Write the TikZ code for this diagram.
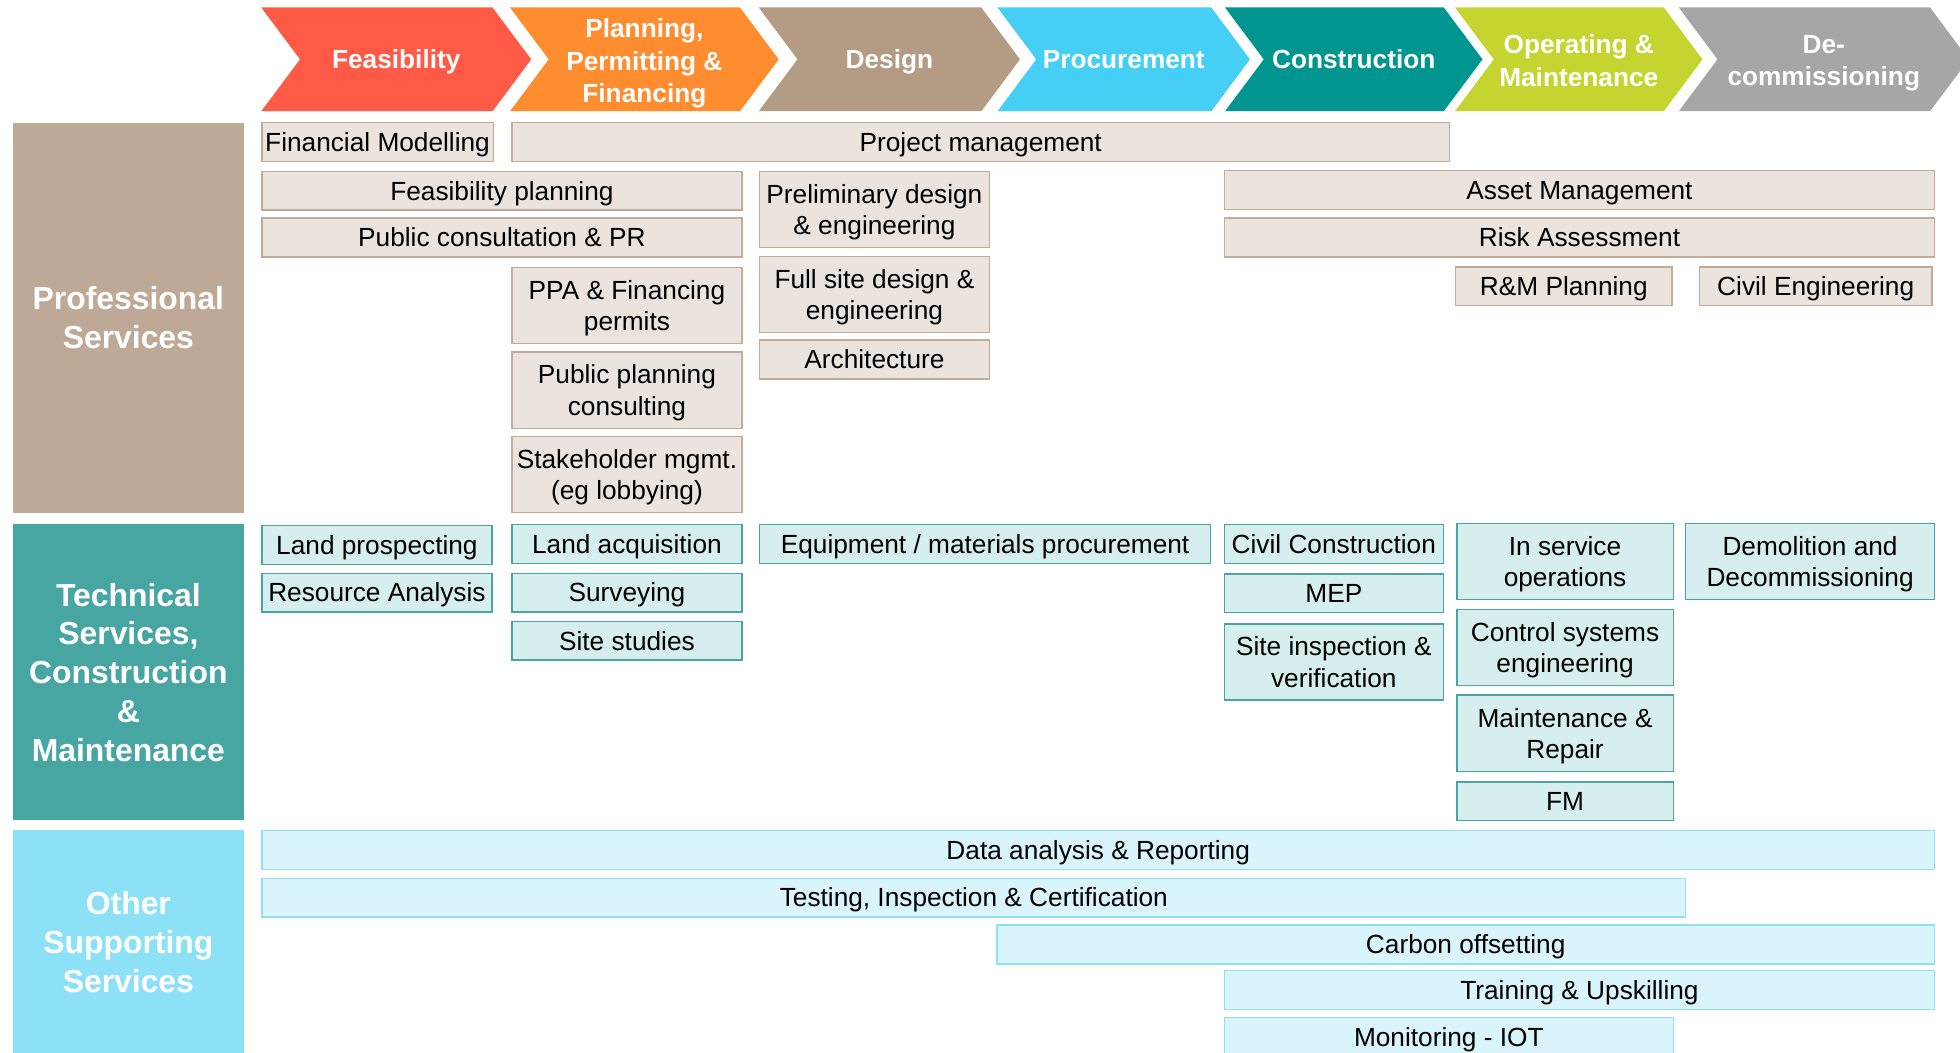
\documentclass[tikz,border=0pt]{standalone}
\usepackage{fontspec}
\setmainfont{Liberation Sans}
\usepackage{tikz}

\definecolor{cfeas}{HTML}{FF5A46}
\definecolor{cplan}{HTML}{FF8C2E}
\definecolor{cdesign}{HTML}{B39B84}
\definecolor{cproc}{HTML}{45CFF5}
\definecolor{ccons}{HTML}{00968F}
\definecolor{coper}{HTML}{C5D42E}
\definecolor{cdecom}{HTML}{A6A6A6}
\definecolor{profcat}{HTML}{BEA997}
\definecolor{proffill}{HTML}{EAE3DE}
\definecolor{profline}{HTML}{C2AC99}
\definecolor{techcat}{HTML}{47A5A2}
\definecolor{techfill}{HTML}{D6EEEE}
\definecolor{techline}{HTML}{4AA5A2}
\definecolor{othcat}{HTML}{8DE1F7}
\definecolor{othfill}{HTML}{D9F4FB}
\definecolor{othline}{HTML}{8FDFF5}

\newcommand\boxfont{\fontsize{21}{25}\selectfont}
\newcommand\catfont{\fontsize{25.5}{31}\selectfont\bfseries}
\newcommand\phasefont{\fontsize{21}{26}\selectfont\bfseries}
% keeps lines with and without descenders at the same height
\newcommand\topstrut{\rule{0pt}{21pt}}
\newcommand\botstrut{\rule[-6pt]{0pt}{6pt}}

\tikzset{
	box/.style={anchor=north west, inner sep=0pt, align=center, font=\boxfont,
		line width=1.1pt, minimum height=31,
		execute at begin node=\topstrut, execute at end node=\botstrut},
	tall/.style={minimum height=61, text depth=0pt},
	probox/.style={box, draw=profline, fill=proffill},
	techbox/.style={box, draw=techline, fill=techfill},
	othbox/.style={box, draw=othline, fill=othfill},
	cat/.style={anchor=north west, inner sep=0pt, align=center, font=\catfont,
		text=white, minimum width=185},
	phase/.style={align=center, font=\phasefont, text=white,
		execute at begin node=\topstrut, execute at end node=\botstrut}
}

\begin{document}
\begin{tikzpicture}[x=1pt, y=-1pt]
\useasboundingbox (0,0) rectangle (1568,842);
\clip (0,0) rectangle (1568,842);

%% phases along the top
\foreach \l/\r/\c/\s/\n/\t in {
	209/394/cfeas/0/feas/Feasibility,
	408/592/cplan/-4/plan/{Planning,\\Permitting \&\\Financing},
	607/785/cdesign/0/design/Design,
	798/969/cproc/0/proc/Procurement,
	980/1155/ccons/0/cons/Construction,
	1164/1331/coper/-4/oper/{Operating \&\\Maintenance},
	1343/1544/cdecom/-4/decom/{De-\\commissioning}}
{
	\fill[\c] (\l,6) -- (\r,6) -- (\r+31,47.5) -- (\r,89) -- (\l,89) -- (\l+31,47.5) -- cycle;
	\node[phase, yshift=\s] (\n) at ({(\l+\r+31)/2},47.5) {\t};
}

%% service groups
\node[cat, fill=profcat, minimum height=312] (prof) at (10,98) {Professional\\Services};
\node[cat, fill=techcat, minimum height=237] (tech) at (10,419) {Technical\\Services,\\Construction\\\&\\Maintenance};
\node[cat, fill=othcat, minimum height=180] (oth) at (10,663.5) {Other\\Supporting\\Services};

\node[probox, minimum width=185] (finmod) at (209,97.5) {Financial Modelling};
\node[probox, minimum width=750] (projmgmt) at (409,97.5) {Project management};
\node[probox, minimum width=384] (feasplan) at (209,136.5) {Feasibility planning};
\node[probox, minimum width=384] (pubcons) at (209,174) {Public consultation \& PR};
\node[probox, tall, minimum width=184] (ppa) at (409,213.5) {PPA \& Financing\\permits};
\node[probox, tall, minimum width=184] (pubplan) at (409,281) {Public planning\\consulting};
\node[probox, tall, minimum width=184] (stake) at (409,348.5) {Stakeholder mgmt.\\(eg lobbying)};
\node[probox, tall, minimum width=184] (prelim) at (607,136.5) {Preliminary design\\\& engineering};
\node[probox, tall, minimum width=184] (fullsite) at (607,204.5) {Full site design \&\\engineering};
\node[probox, minimum width=184] (arch) at (607,271.5) {Architecture};
\node[probox, minimum width=568] (asset) at (979,136) {Asset Management};
\node[probox, minimum width=568] (risk) at (979,174) {Risk Assessment};
\node[probox, minimum width=173] (rmplan) at (1164,213) {R\&M Planning};
\node[probox, minimum width=186] (civeng) at (1359,213) {Civil Engineering};

\node[techbox, minimum width=184] (landpro) at (209,420) {Land prospecting};
\node[techbox, minimum width=184] (resana) at (209,458) {Resource Analysis};
\node[techbox, minimum width=184] (landacq) at (409,419) {Land acquisition};
\node[techbox, minimum width=184] (survey) at (409,458) {Surveying};
\node[techbox, minimum width=184] (sitestud) at (409,496.5) {Site studies};
\node[techbox, minimum width=361] (equip) at (607,419) {Equipment / materials procurement};
\node[techbox, minimum width=175] (civcon) at (979,419) {Civil Construction};
\node[techbox, minimum width=175] (mep) at (979,458.5) {MEP};
\node[techbox, tall, minimum width=175] (siteinsp) at (979,498.5) {Site inspection \&\\verification};
\node[techbox, tall, minimum width=173] (inserv) at (1165,418) {In service\\operations};
\node[techbox, tall, minimum width=173] (control) at (1165,487) {Control systems\\engineering};
\node[techbox, tall, minimum width=173] (maint) at (1165,555.5) {Maintenance \&\\Repair};
\node[techbox, minimum width=173] (fm) at (1165,625) {FM};
\node[techbox, tall, minimum width=199] (demol) at (1348,418) {Demolition and\\Decommissioning};

\node[othbox, minimum width=1338] (data) at (209,664) {Data analysis \& Reporting};
\node[othbox, minimum width=1139] (testing) at (209,702) {Testing, Inspection \& Certification};
\node[othbox, minimum width=750] (carbon) at (797,739.5) {Carbon offsetting};
\node[othbox, minimum width=568] (training) at (979,776) {Training \& Upskilling};
\node[othbox, minimum width=359] (monit) at (979,813.5) {Monitoring - IOT};
\end{tikzpicture}
\end{document}
